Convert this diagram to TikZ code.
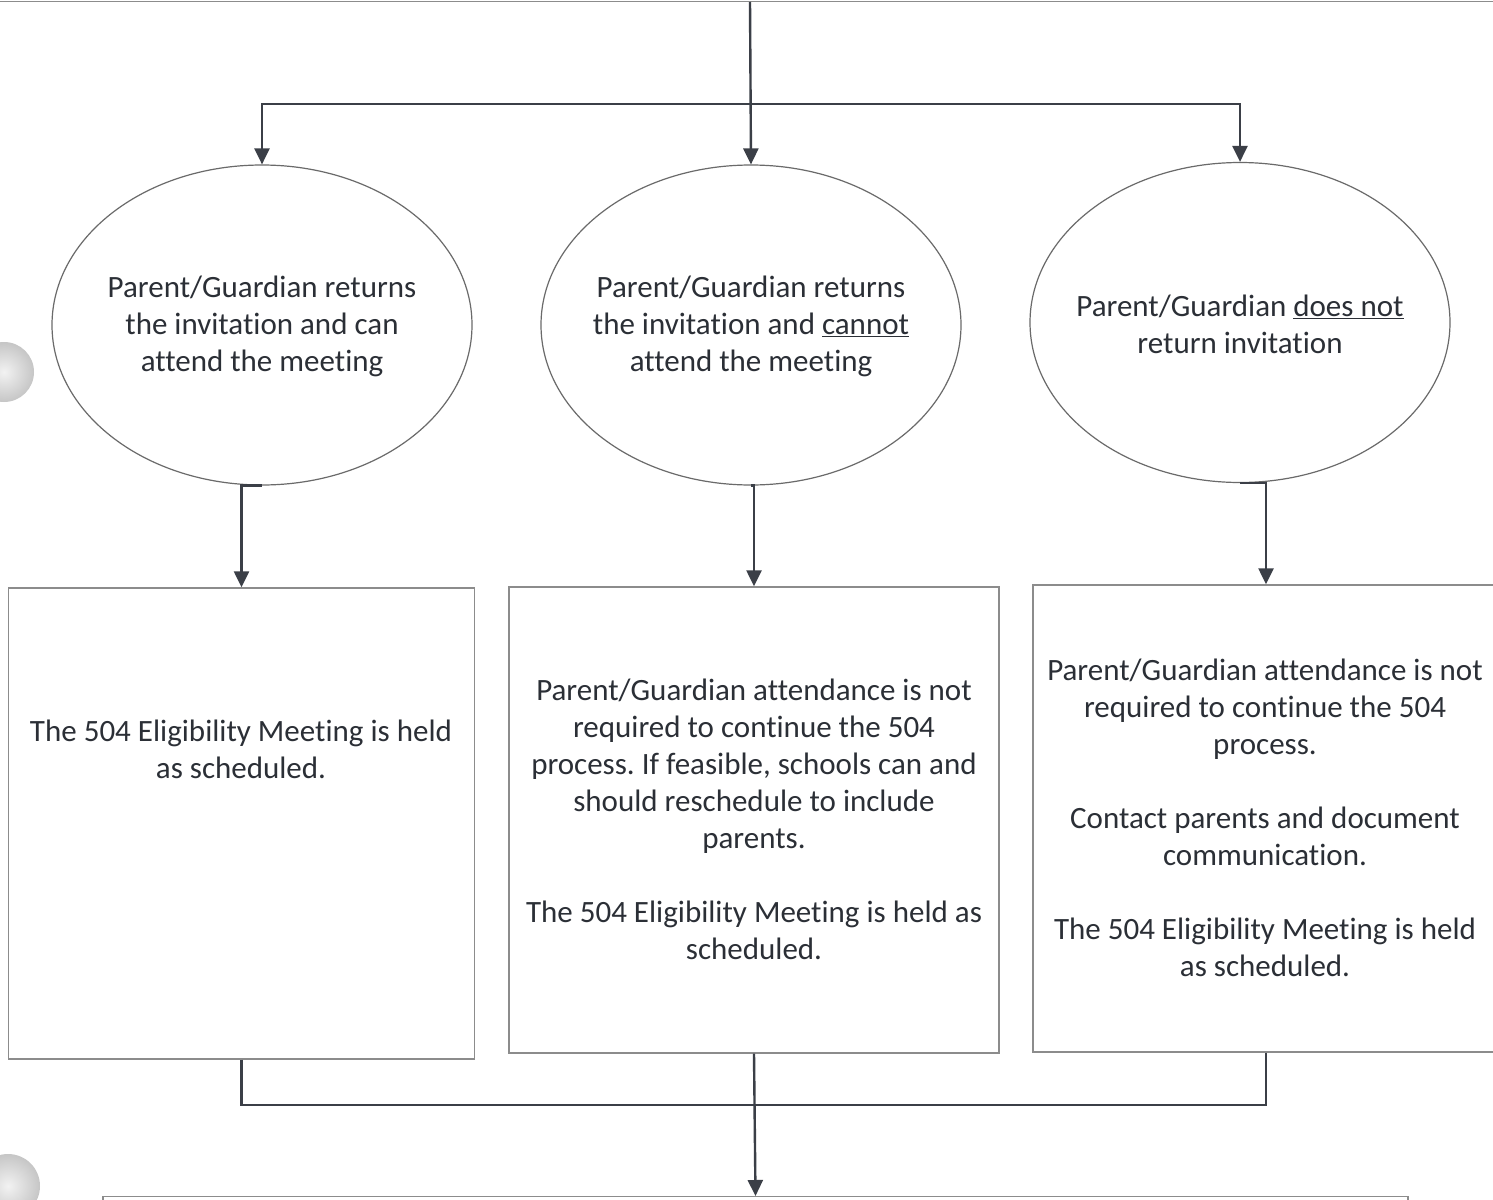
\documentclass[tikz,border=0pt]{standalone}
\usepackage{fontspec}
\setmainfont{Carlito}[Ligatures={NoCommon,NoRare},Contextuals=NoAlternate]
\usetikzlibrary{shapes.geometric,arrows.meta}
\definecolor{txtc}{HTML}{2B2F36}
\definecolor{linec}{HTML}{3B3F47}
\definecolor{boxc}{HTML}{8C8C8C}
\definecolor{ellc}{HTML}{6A6A6A}
\tikzset{
  conn/.style={draw=linec,line width=2.4pt},
  arr/.style={conn,-{Triangle[width=15pt,length=16pt]}},
  ell/.style={ellipse,draw=ellc,line width=1.2pt,minimum width=420pt,minimum height=320pt,inner sep=0pt},
  rbox/.style={rectangle,draw=boxc,line width=1.4pt,inner sep=0pt},
  txt/.style={align=center,inner sep=0pt,text=txtc,font=\fontsize{31}{37}\selectfont},
  hole/.style={inner color=gray!10,outer color=gray!45,draw=none}
}
\begin{document}
\frenchspacing
\begin{tikzpicture}[x=1pt,y=-1pt]
\clip (0,0) rectangle (1493,1199);
\useasboundingbox (0,0) rectangle (1493,1199);
\fill[white] (0,0) rectangle (1493,1199);
% punch holes
\shade[hole] (4,372) circle (30);
\shade[hole] (8,1186) circle (32);
% previous (cut-off) box and next box
\node[rbox,minimum width=1600pt,minimum height=100pt,anchor=south] (prev) at (746,2) {};
\node[rbox,minimum width=1305pt,minimum height=100pt,anchor=north] (next) at (755.5,1196) {};
% ellipses
\node[ell] (e1) at (262,325) {};
\node[ell] (e2) at (751,325) {};
\node[ell] (e3) at (1240,322.5) {};
\node[txt] at (262,326) {Parent/Guardian returns\\the invitation and can\\attend the meeting};
\node[txt] at (751,326) {Parent/Guardian returns\\the invitation and \underline{cannot}\\attend the meeting};
\node[txt] at (1240,324.5) {Parent/Guardian \underline{does not}\\return invitation};
% boxes
\node[rbox,minimum width=466pt,minimum height=471pt] (b1) at (241.5,823.5) {};
\node[rbox,minimum width=490pt,minimum height=466pt] (b2) at (754,820) {};
\node[rbox,minimum width=466pt,minimum height=467pt] (b3) at (1266,818.5) {};
\node[txt] at (241,749.5) {The 504 Eligibility Meeting is held\\as scheduled.};
\node[txt] at (754,819.5) {Parent/Guardian attendance is not\\required to continue the 504\\process. If feasible, schools can and\\should reschedule to include\\parents.\\[37pt]The 504 Eligibility Meeting is held as\\scheduled.};
\node[txt] at (1265,818) {Parent/Guardian attendance is not\\required to continue the 504\\process.\\[37pt]Contact parents and document\\communication.\\[37pt]The 504 Eligibility Meeting is held\\as scheduled.};
% connectors
\coordinate (split) at (750,104);
\coordinate (join) at (754,1105);
\draw[arr] (750,2) -- (e2.north);
\draw[arr] (split) -| (e1.north);
\draw[arr] (split) -| (e3.north);
\draw[arr] (e1.south) -| (b1.north);
\draw[arr] (e2.south) -| (b2.north);
\draw[arr] (e3.south) -| (b3.north);
\draw[conn] (b1.south) |- (join);
\draw[conn] (b3.south) |- (join);
\draw[arr] (b2.south) -- (next.north);
\end{tikzpicture}
\end{document}
